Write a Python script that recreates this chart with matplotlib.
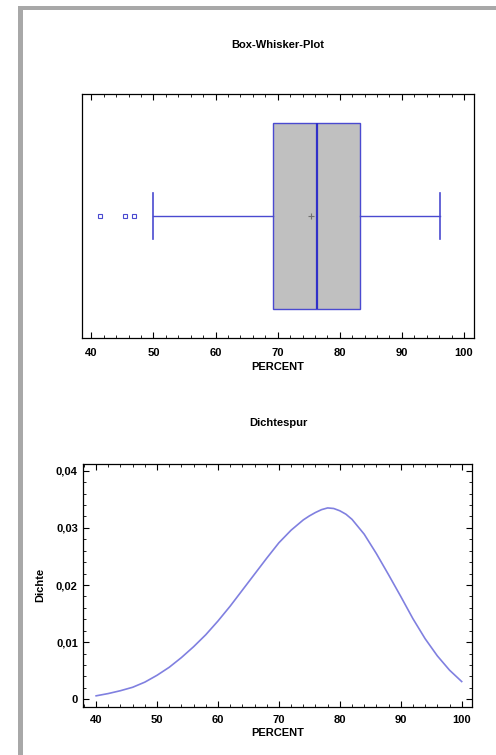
import numpy as np
import matplotlib
matplotlib.use('Agg')
import matplotlib.pyplot as plt
from matplotlib.patches import Rectangle
from matplotlib.ticker import MultipleLocator, FixedLocator, FixedFormatter

plt.rcParams['font.family'] = ['Liberation Sans', 'DejaVu Sans']
plt.rcParams['font.weight'] = 'bold'

# box-whisker summary (PERCENT)
box_q1 = 69.2
box_median = 76.3
box_q3 = 83.3
box_mean = 75.3
whisker_low = 49.9
whisker_high = 96.1
outliers = [41.4, 45.5, 46.9]

# density trace
dens_x = [40, 42, 44, 46, 48, 50, 52, 54, 56, 58, 60, 62, 64, 66, 68, 70,
          72, 74, 75, 76, 77, 78, 79, 80, 81, 82, 84, 86, 88, 90, 92, 94,
          96, 98, 100]
dens_y = [0.0006, 0.0010, 0.0015, 0.0021, 0.0030, 0.0042, 0.0056, 0.0073,
          0.0092, 0.0113, 0.0137, 0.0163, 0.0191, 0.0219, 0.0247, 0.0274,
          0.0296, 0.0314, 0.0321, 0.0327, 0.0332, 0.0335, 0.0334, 0.0330,
          0.0324, 0.0315, 0.0289, 0.0255, 0.0218, 0.0180, 0.0141, 0.0106,
          0.0076, 0.0051, 0.0031]

x_ticks = [40, 50, 60, 70, 80, 90, 100]
y_ticks = [0, 0.01, 0.02, 0.03, 0.04]
y_tick_labels = ['0', '0,01', '0,02', '0,03', '0,04']

blue = '#4a4ad0'
fs = 8

fig = plt.figure(figsize=(4.96, 7.55), dpi=100)

# gray frame
fig.add_artist(Rectangle((18 / 496, 0), 5 / 496, 1 - 6 / 755,
                         transform=fig.transFigure, color='#a8a8a8', lw=0))
fig.add_artist(Rectangle((18 / 496, 1 - 10 / 755), 1, 4 / 755,
                         transform=fig.transFigure, color='#a8a8a8', lw=0))

# --- box whisker plot
ax1 = fig.add_axes([0.1653, 0.5523, 0.7903, 0.3232])
stats = [dict(q1=box_q1, med=box_median, q3=box_q3, mean=box_mean,
              whislo=whisker_low, whishi=whisker_high, fliers=outliers)]
ax1.bxp(stats, positions=[0.5], widths=0.764, capwidths=0.19,
        orientation='horizontal', patch_artist=True, showmeans=True,
        boxprops=dict(facecolor='#c0c0c0', edgecolor=blue, lw=1.0),
        medianprops=dict(color='#3030c8', lw=1.6),
        whiskerprops=dict(color=blue, lw=1.0),
        capprops=dict(color=blue, lw=1.2),
        flierprops=dict(marker='s', markersize=3, markerfacecolor='none',
                        markeredgecolor=blue, markeredgewidth=0.8),
        meanprops=dict(marker='+', markersize=4, markeredgecolor='#707070',
                       markeredgewidth=0.8))
ax1.set_xlim(38.5, 101.6)
ax1.set_ylim(0, 1)
ax1.set_yticks([])
ax1.xaxis.set_major_locator(FixedLocator(x_ticks))
ax1.xaxis.set_minor_locator(MultipleLocator(2))
ax1.tick_params(axis='x', which='both', direction='in', top=True,
                labelsize=fs, pad=7)
ax1.tick_params(axis='x', which='major', length=4, width=0.8)
ax1.tick_params(axis='x', which='minor', length=2, width=0.6)
ax1.set_xlabel('PERCENT', fontsize=fs, fontweight='bold', labelpad=3)
for s in ax1.spines.values():
    s.set_linewidth(0.9)
fig.text(0.5605, 1 - 45 / 755, 'Box-Whisker-Plot', ha='center', va='center',
         fontsize=fs, fontweight='bold')

# --- density trace
ax2 = fig.add_axes([0.168, 0.064, 0.7837, 0.3215])
ax2.plot(dens_x, dens_y, color='#8080e0', lw=1.2)
ax2.set_xlim(37.9, 101.7)
ax2.set_ylim(-0.0013, 0.0412)
ax2.xaxis.set_major_locator(FixedLocator(x_ticks))
ax2.xaxis.set_minor_locator(MultipleLocator(2))
ax2.yaxis.set_major_locator(FixedLocator(y_ticks))
ax2.yaxis.set_major_formatter(FixedFormatter(y_tick_labels))
ax2.yaxis.set_minor_locator(MultipleLocator(0.002))
ax2.tick_params(which='both', direction='in', top=True, right=True,
                labelsize=fs, pad=6)
ax2.tick_params(axis='y', pad=4)
ax2.tick_params(which='major', length=4, width=0.8)
ax2.tick_params(which='minor', length=2, width=0.6)
ax2.set_xlabel('PERCENT', fontsize=fs, fontweight='bold', labelpad=2)
ax2.set_ylabel('Dichte', fontsize=fs, fontweight='bold', labelpad=8)
for s in ax2.spines.values():
    s.set_linewidth(0.9)
fig.text(0.5605, 1 - 423 / 755, 'Dichtespur', ha='center', va='center',
         fontsize=fs, fontweight='bold')

fig.savefig('out.png', dpi=100)
